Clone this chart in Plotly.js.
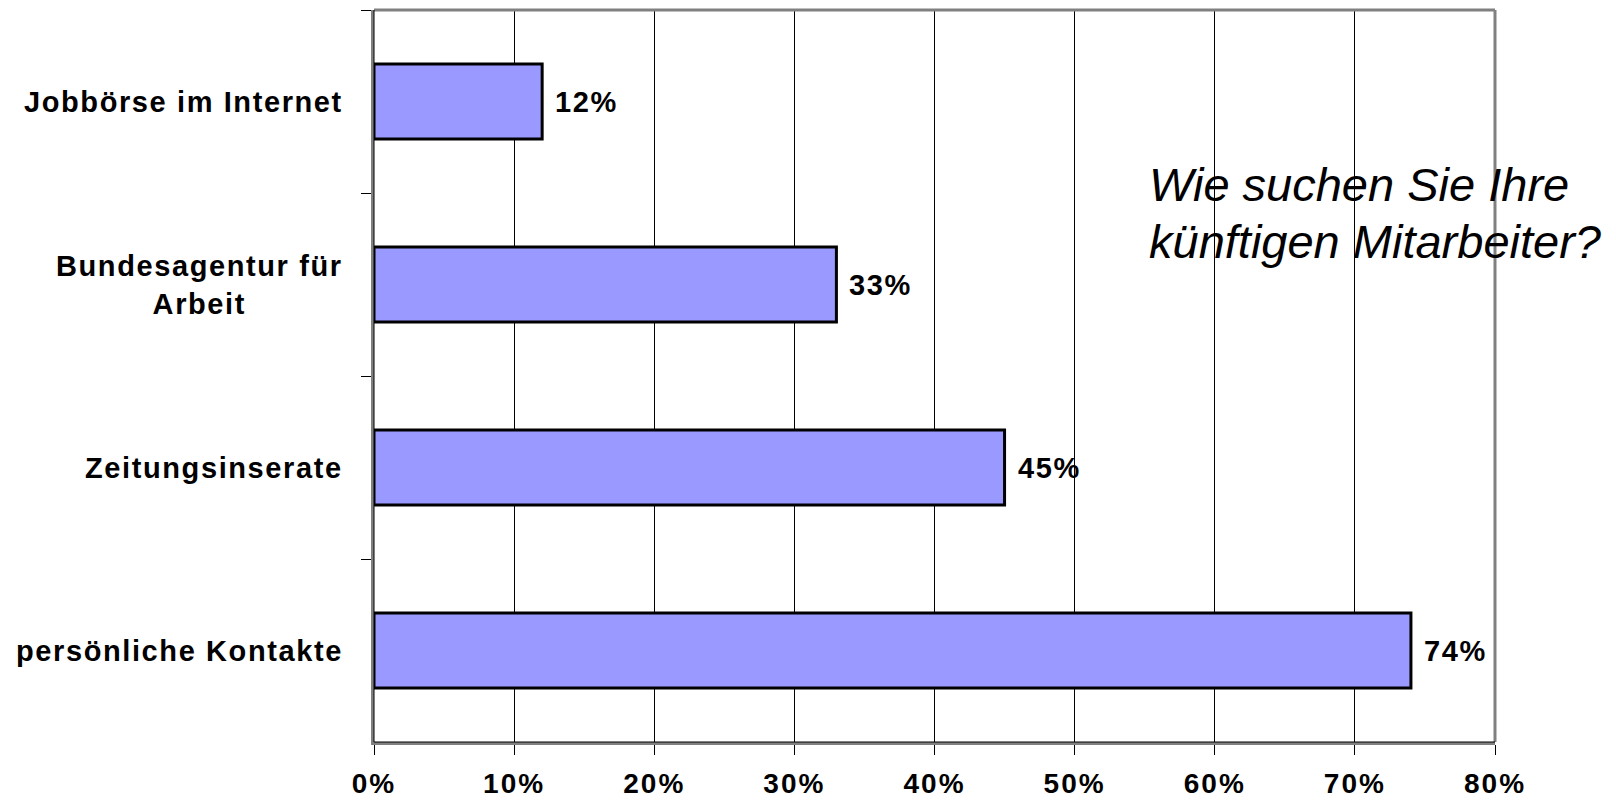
<!DOCTYPE html>
<html>
<head>
<meta charset="utf-8">
<script src="https://cdn.plot.ly/plotly-3.0.1.min.js"></script>
<style>
  html, body { margin: 0; padding: 0; background: #fff; }
  #chart { width: 1616px; height: 800px; }
  .annotation-text { letter-spacing: 1.6px; }
  .annotation-text[data-unformatted^="Wie"],
  .annotation-text[data-unformatted^="künftigen"] { letter-spacing: 0px; }
  .xtick text { letter-spacing: 2px; }
</style>
</head>
<body>
<div id="chart"></div>
<script>
// ---- data ----
const categories = ['Jobbörse im Internet', 'Bundesagentur für Arbeit', 'Zeitungsinserate', 'persönliche Kontakte'];
const categoryLabels = ['Jobbörse im Internet', 'Bundesagentur für<br>Arbeit', 'Zeitungsinserate', 'persönliche Kontakte'];
const values = [0.12, 0.33, 0.45, 0.74];
const titleLines = ['Wie suchen Sie Ihre', 'künftigen Mitarbeiter?'];
const xRange = [0, 0.8];
const xStep = 0.1;

const FONT = '"Liberation Sans", Arial, Helvetica, sans-serif';

const trace = {
  type: 'bar',
  orientation: 'h',
  x: values,
  y: categories,
  marker: { color: '#9999FF', line: { color: '#000000', width: 3 } },
  hoverinfo: 'x+y',
  cliponaxis: false
};

const annotations = [];
categories.forEach((c, i) => {
  annotations.push({
    xref: 'paper', yref: 'y', x: 0, y: c,
    xanchor: 'right', yanchor: 'middle', xshift: -29,
    align: 'center', showarrow: false,
    text: categoryLabels[i],
    font: { family: FONT, size: 29, color: '#000', weight: 'bold' }
  });
  annotations.push({
    xref: 'x', yref: 'y', x: values[i], y: c,
    xanchor: 'left', yanchor: 'middle', xshift: 11,
    showarrow: false,
    text: Math.round(values[i] * 100) + '%',
    font: { family: FONT, size: 29, color: '#000', weight: 'bold' }
  });
});
annotations.push({
  xref: 'paper', yref: 'paper', x: 0.690, y: 0.762,
  xanchor: 'left', yanchor: 'middle', showarrow: false,
  text: titleLines[0],
  font: { family: FONT, size: 47, color: '#000', style: 'italic' }
});
annotations.push({
  xref: 'paper', yref: 'paper', x: 0.690, y: 0.684,
  xanchor: 'left', yanchor: 'middle', showarrow: false,
  text: titleLines[1],
  font: { family: FONT, size: 47, color: '#000', style: 'italic' }
});

const layout = {
  width: 1616, height: 800,
  margin: { l: 374, r: 121, t: 10, b: 58, pad: 0 },
  paper_bgcolor: '#ffffff', plot_bgcolor: '#ffffff',
  showlegend: false,
  bargap: 0.59,
  font: { family: FONT, color: '#000' },
  xaxis: {
    range: xRange, dtick: xStep, tick0: 0, tickformat: '.0%',
    showgrid: true, gridcolor: '#000000', gridwidth: 1,
    zeroline: false,
    showline: true, linecolor: '#808080', linewidth: 3,
    ticks: 'outside', ticklen: 10, tickcolor: '#000', tickwidth: 1,
    ticklabelstandoff: 4,
    tickfont: { family: FONT, size: 28, color: '#000', weight: 'bold' },
    fixedrange: true
  },
  yaxis: {
    type: 'category', autorange: 'reversed',
    showgrid: false, zeroline: false,
    showline: true, linecolor: '#808080', linewidth: 3,
    ticks: 'outside', tickson: 'boundaries', ticklen: 10, tickcolor: '#000', tickwidth: 1,
    showticklabels: false,
    fixedrange: true
  },
  shapes: [
    { type: 'line', xref: 'paper', yref: 'paper', x0: 0, x1: 1, y0: 1, y1: 1, line: { color: '#808080', width: 3 }, layer: 'above' },
    { type: 'line', xref: 'paper', yref: 'paper', x0: 1, x1: 1, y0: 0, y1: 1, line: { color: '#808080', width: 3 }, layer: 'above' },
    { type: 'line', xref: 'paper', yref: 'paper', x0: 0, x1: 0, y0: 0, y1: 1, line: { color: '#000000', width: 1 }, layer: 'above' },
    { type: 'line', xref: 'paper', yref: 'paper', x0: 0, x1: 1, y0: 0, y1: 0, line: { color: '#000000', width: 1 }, layer: 'above' }
  ],
  annotations: annotations
};

Plotly.newPlot('chart', [trace], layout, { displayModeBar: false, staticPlot: true });
</script>
</body>
</html>
